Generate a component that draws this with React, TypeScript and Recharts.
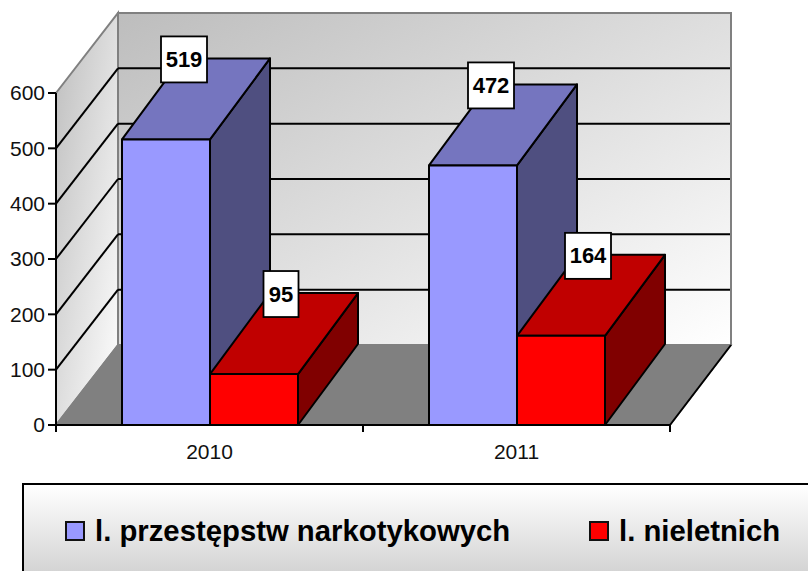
import React from "react";
import { BarChart, Bar, XAxis, YAxis, CartesianGrid, Legend, LabelList, usePlotArea } from "recharts";

const categories = ["2010", "2011"];
const drugOffences = [519, 472];
const minors = [95, 164];
const valueTicks = [0, 100, 200, 300, 400, 500, 600];
const seriesNames = ["l. przestępstw narkotykowych", "l. nieletnich"];

const data = categories.map((year, i) => ({ year, drug: drugOffences[i], minor: minors[i] }));

const FONT = "'Liberation Sans', Arial, sans-serif";
const WALL_DX = 62;
const WALL_DY = -80;
const BAR_DX = 60;
const BAR_DY = -81;
const BAR_SHIFT = 1.6;
const LINE = 2;

const pts = (list: number[][]) => list.map((p) => p.join(",")).join(" ");

function Walls() {
  const plot = usePlotArea();
  if (!plot) return null;
  const l = plot.x;
  const r = plot.x + plot.width;
  const t = plot.y;
  const b = plot.y + plot.height;
  const side = [[l, t], [l + WALL_DX, t + WALL_DY], [l + WALL_DX, b + WALL_DY], [l, b]];
  const back = [[l + WALL_DX, t + WALL_DY], [r + WALL_DX - 1, t + WALL_DY], [r + WALL_DX - 1, b + WALL_DY], [l + WALL_DX, b + WALL_DY]];
  const floor = [[l, b], [l + WALL_DX, b + WALL_DY], [r + WALL_DX - 1, b + WALL_DY], [r, b]];
  return (
    <g>
      <defs>
        <linearGradient id="wallGrad" x1="0" y1="0" x2="1" y2="1">
          <stop offset="0" stopColor="#bdbdbd" />
          <stop offset="1" stopColor="#ffffff" />
        </linearGradient>
      </defs>
      <polygon points={pts(side)} fill="url(#wallGrad)" stroke="#808080" strokeWidth={2} />
      <polygon points={pts(back)} fill="url(#wallGrad)" stroke="#808080" strokeWidth={2} />
      <polygon points={pts(floor)} fill="#808080" stroke="#808080" strokeWidth={1.5} />
      <line x1={r} y1={b} x2={r + WALL_DX - 1} y2={b + WALL_DY} stroke="#000" strokeWidth={LINE} />
    </g>
  );
}

function gridLine(p: any) {
  return (
    <g key={p.key ?? `g${p.index}`}>
      {p.index === 0 ? <Walls /> : null}
      <GridPiece y={p.y1} />
    </g>
  );
}

function GridPiece({ y }: { y: number }) {
  const plot = usePlotArea();
  if (!plot) return null;
  const l = plot.x;
  const r = plot.x + plot.width;
  if (Math.abs(y - plot.y) < 1 || Math.abs(y - (plot.y + plot.height)) < 1) return null;
  return (
    <g stroke="#000" strokeWidth={LINE}>
      <line x1={l} y1={y} x2={l + WALL_DX} y2={y + WALL_DY} />
      <line x1={l + WALL_DX} y1={y + WALL_DY} x2={r + WALL_DX - 2} y2={y + WALL_DY} />
    </g>
  );
}

function Box3D(props: any) {
  const { x, y, width, height, fill, topFill, sideFill } = props;
  const top = y + BAR_SHIFT;
  const h = height - BAR_SHIFT;
  const right = x + width;
  return (
    <g stroke="#000" strokeWidth={LINE} strokeLinejoin="round">
      <polygon points={pts([[right, top], [right + BAR_DX, top + BAR_DY], [right + BAR_DX, top + h + BAR_DY], [right, top + h]])} fill={sideFill} />
      <polygon points={pts([[x, top], [x + BAR_DX, top + BAR_DY], [right + BAR_DX, top + BAR_DY], [right, top]])} fill={topFill} />
      <rect x={x} y={top} width={width} height={h} fill={fill} />
    </g>
  );
}

function ValueBox(props: any, dx: number) {
  const { x, y, width, value } = props;
  const text = String(value);
  const w = text.length > 2 ? 46 : 35;
  const h = 46;
  const cx = x + width / 2 + dx;
  const cy = y + BAR_SHIFT - 80;
  return (
    <g>
      <rect x={cx - w / 2} y={cy - h / 2} width={w} height={h} fill="#fff" stroke="#000" strokeWidth={1.8} />
      <text x={cx} y={cy + 7.5} textAnchor="middle" fontFamily={FONT} fontWeight="bold" fontSize={22} fill="#000">
        {text}
      </text>
    </g>
  );
}

function AxisTicks() {
  const plot = usePlotArea();
  if (!plot) return null;
  const b = plot.y + plot.height;
  const stops = [0, 1, 2].map((i) => plot.x + (plot.width * i) / categories.length);
  return (
    <g stroke="#000" strokeWidth={2}>
      {stops.map((sx) => (
        <line key={sx} x1={sx} y1={b} x2={sx} y2={b + 7} />
      ))}
    </g>
  );
}

function LegendBox({ payload }: any) {
  const items = payload ?? [];
  const spots = [
    { icon: 65, text: 95 },
    { icon: 589, text: 619 },
  ];
  return (
    <div style={{ position: "relative", width: "100%", height: "100%" }}>
      {items.map((it: any, i: number) => (
        <React.Fragment key={it.value}>
          <span
            style={{
              position: "absolute",
              left: spots[i].icon - 24,
              top: 36,
              width: 16,
              height: 16,
              background: it.color,
              border: "2px solid #111",
              display: "block",
            }}
          />
          <span
            style={{
              position: "absolute",
              left: spots[i].text - 24,
              top: 29,
              fontFamily: FONT,
              fontWeight: "bold",
              fontSize: 29.3,
              lineHeight: "34px",
              color: "#000",
              whiteSpace: "nowrap",
            }}
          >
            {it.value}
          </span>
        </React.Fragment>
      ))}
    </div>
  );
}

export default function App() {
  return (
    <div style={{ position: "absolute", left: 0, top: 0, width: 808, height: 571, overflow: "hidden", background: "#fff" }}>
      <BarChart
        width={808}
        height={571}
        data={data}
        margin={{ top: 93, left: 0, right: 138, bottom: 106 }}
        barSize={88}
        barGap={0}
        barCategoryGap={65.5}
      >
        <CartesianGrid horizontal={gridLine} vertical={false} />
        <XAxis
          dataKey="year"
          height={40}
          tickLine={false}
          tickMargin={13}
          axisLine={{ stroke: "#000", strokeWidth: 2 }}
          tick={{ fontFamily: FONT, fontSize: 21, fill: "#111" }}
        />
        <YAxis
          width={56}
          domain={[0, 600]}
          ticks={valueTicks}
          tickSize={8}
          tickMargin={3}
          axisLine={{ stroke: "#000", strokeWidth: 2 }}
          tickLine={{ stroke: "#000", strokeWidth: 2 }}
          tick={{ fontFamily: FONT, fontSize: 21, fill: "#111" }}
        />
        <Bar
          dataKey="drug"
          name={seriesNames[0]}
          fill="#9999ff"
          isAnimationActive={false}
          shape={(p: any) => <Box3D {...p} topFill="#7575bf" sideFill="#4f4f80" />}
        >
          <LabelList dataKey="drug" content={(p: any) => ValueBox(p, 18)} />
        </Bar>
        <Bar
          dataKey="minor"
          name={seriesNames[1]}
          fill="#ff0000"
          isAnimationActive={false}
          shape={(p: any) => <Box3D {...p} topFill="#c00000" sideFill="#800000" />}
        >
          <LabelList dataKey="minor" content={(p: any) => ValueBox(p, 27)} />
        </Bar>
        <AxisTicks />
        <Legend
          layout="horizontal"
          verticalAlign="middle"
          itemSorter={null}
          content={(p: any) => <LegendBox payload={p.payload} />}
          wrapperStyle={{
            position: "absolute",
            left: 22,
            top: 483,
            width: 800,
            height: 120,
            boxSizing: "border-box",
            border: "2px solid #000",
            background: "linear-gradient(180deg, #ffffff 0%, #d4d4d4 75%)",
          }}
        />
      </BarChart>
    </div>
  );
}
